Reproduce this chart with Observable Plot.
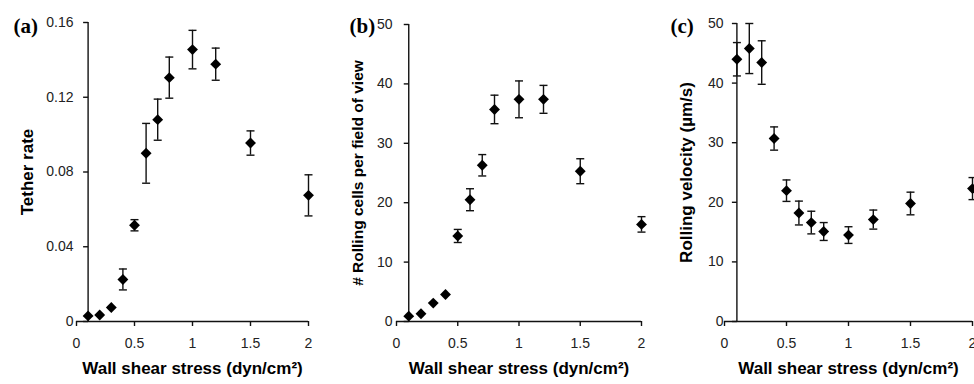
<!DOCTYPE html>
<html>
<head>
<meta charset="utf-8">
<script src="https://cdn.jsdelivr.net/npm/d3@7"></script>
<script src="https://cdn.jsdelivr.net/npm/@observablehq/plot@0.6"></script>
<style>
  html, body { margin: 0; padding: 0; background: #fff; }
  #row { display: flex; width: 974px; height: 384px; overflow: hidden; }
  #row svg { overflow: visible; }
</style>
</head>
<body>
<div id="row"></div>
<script>
// Shared x values (wall shear stress, dyn/cm²)
const shearStress = [0.1, 0.2, 0.3, 0.4, 0.5, 0.6, 0.7, 0.8, 1.0, 1.2, 1.5, 2.0];

// (a) Tether rate
const tetherRate = [0.003, 0.0035, 0.0075, 0.0225, 0.0515, 0.090, 0.108, 0.1305, 0.1455, 0.1377, 0.0955, 0.0675];
const tetherErr  = [0, 0, 0, 0.0056, 0.003, 0.016, 0.011, 0.011, 0.0103, 0.0086, 0.0065, 0.011];

// (b) Rolling cells per field of view
const rollingCells = [0.9, 1.3, 3.1, 4.55, 14.4, 20.5, 26.3, 35.7, 37.4, 37.4, 25.3, 16.35];
const rollingErr   = [0, 0, 0, 0, 1.1, 1.85, 1.8, 2.4, 3.1, 2.35, 2.1, 1.3];

// (c) Rolling velocity (µm/s)
const rollingVelocity = [44.0, 45.8, 43.45, 30.7, 21.95, 18.2, 16.6, 15.1, 14.5, 17.1, 19.8, 22.3];
const velocityErr     = [2.8, 4.2, 3.65, 1.95, 1.8, 2.0, 1.9, 1.5, 1.4, 1.6, 1.9, 1.85];

// Tick labels
const xTicks = [0, 0.5, 1, 1.5, 2];
const yTicksA = [0, 0.04, 0.08, 0.12, 0.16];
const yTicksB = [0, 10, 20, 30, 40, 50];
const yTicksC = [0, 10, 20, 30, 40, 50];

const xTitle = "Wall shear stress (dyn/cm²)";
const yAxisCrossing = 0.1;

const ink = "#111";
const capSymbol = { draw(ctx) { ctx.moveTo(-4, 0); ctx.lineTo(4, 0); } };
const leftTickSymbol = { draw(ctx) { ctx.moveTo(-5, 0); ctx.lineTo(0, 0); } };
const plainFormat = d => String(d);

function panel({values, errors, yTicks, yTitle, tag, width, marginLeft, marginRight, marginTop, titleDx, titleSize, tagDx, labelPad}) {
  const data = shearStress.map((x, i) => ({x, y: values[i], lo: values[i] - errors[i], hi: values[i] + errors[i], err: errors[i]}));
  const errData = data.filter(d => d.err > 0);
  return Plot.plot({
    width,
    height: 384,
    marginLeft,
    marginRight,
    marginTop,
    marginBottom: 63,
    style: {fontFamily: "'Liberation Sans', Arial, sans-serif", fontSize: "14px", color: ink, background: "white", overflow: "visible"},
    x: {domain: [0, 2]},
    y: {domain: [0, yTicks[yTicks.length - 1]]},
    marks: [
      Plot.ruleY([0], {stroke: ink, strokeWidth: 1.4}),
      Plot.ruleX([yAxisCrossing], {stroke: ink, strokeWidth: 1.4}),
      Plot.axisX({ticks: xTicks, tickFormat: plainFormat, tickSize: 5, tickPadding: 12, label: null, stroke: ink, strokeWidth: 1.4, fill: "#222"}),
      Plot.axisY({ticks: yTicks, tickFormat: plainFormat, tickSize: 0, tickPadding: labelPad, label: null, fill: "#222"}),
      Plot.dot(yTicks, {x: () => yAxisCrossing, y: d => d, symbol: leftTickSymbol, stroke: ink, strokeWidth: 1.4, fill: "none"}),
      Plot.ruleX(errData, {x: "x", y1: "lo", y2: "hi", stroke: ink, strokeWidth: 1.4}),
      Plot.dot(errData, {x: "x", y: "hi", symbol: capSymbol, stroke: ink, strokeWidth: 1.4, fill: "none"}),
      Plot.dot(errData, {x: "x", y: "lo", symbol: capSymbol, stroke: ink, strokeWidth: 1.4, fill: "none"}),
      Plot.dot(data, {x: "x", y: "y", symbol: "diamond2", r: 4.9, fill: "#000", stroke: "none"}),
      Plot.text([yTitle], {frameAnchor: "left", textAnchor: "middle", rotate: -90, dx: titleDx, fontSize: titleSize, fontWeight: "bold", fill: "#000"}),
      Plot.text([xTitle], {frameAnchor: "bottom", textAnchor: "middle", lineAnchor: "bottom", dy: 52, fontSize: 17, fontWeight: "bold", fill: "#000"}),
      Plot.text([tag], {frameAnchor: "top-left", textAnchor: "start", lineAnchor: "bottom", dx: tagDx, dy: 10 - (marginTop - 22), fontFamily: "'Liberation Serif', 'Times New Roman', serif", fontSize: 21, fontWeight: "bold", fill: "#000"})
    ]
  });
}

const row = document.getElementById("row");
row.append(
  panel({values: tetherRate, errors: tetherErr, yTicks: yTicksA, yTitle: "Tether rate", tag: "(a)",
         width: 325, marginLeft: 76, marginRight: 17, marginTop: 22, titleDx: -49, titleSize: 17, tagDx: -63, labelPad: 3}),
  panel({values: rollingCells, errors: rollingErr, yTicks: yTicksB, yTitle: "# Rolling cells per field of view", tag: "(b)",
         width: 325, marginLeft: 71, marginRight: 9, marginTop: 24, titleDx: -38, titleSize: 15.5, tagDx: -47, labelPad: 4}),
  panel({values: rollingVelocity, errors: velocityErr, yTicks: yTicksC, yTitle: "Rolling velocity (µm/s)", tag: "(c)",
         width: 324, marginLeft: 74, marginRight: 2, marginTop: 23, titleDx: -38, titleSize: 17, tagDx: -54, labelPad: 1})
);
</script>
</body>
</html>
